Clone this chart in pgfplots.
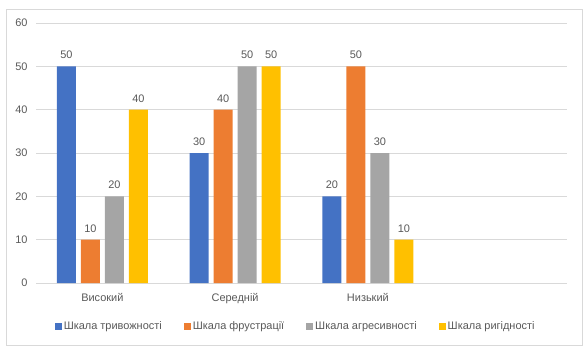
\documentclass[border=0pt]{standalone}
\usepackage{fontspec}
\setmainfont{Liberation Sans}
\usepackage{pgfplots}
\pgfplotsset{compat=1.18}
\definecolor{c1}{HTML}{4472C4}
\definecolor{c2}{HTML}{ED7D31}
\definecolor{c3}{HTML}{A5A5A5}
\definecolor{c4}{HTML}{FFC000}
\definecolor{txt}{HTML}{595959}
\definecolor{gridc}{HTML}{D9D9D9}
\pgfplotsset{sq/.style={legend image code/.code={\fill[##1,draw=none] (0bp,-3.5bp) rectangle (7bp,3.5bp);}}}
\begin{document}
\begin{tikzpicture}
\begin{axis}[name=ax, at={(0,0)}, anchor=south west,
  scale only axis, width=531bp, height=260bp,
  ymin=0, ymax=60, ytick={0,10,...,60},
  xmin=-0.5, xmax=3.5, xtick={0,1,2},
  xticklabels={Високий,Середній,Низький},
  ybar=5bp, bar width=19bp,
  axis line style={draw=none}, major tick length=0pt,
  ymajorgrids, grid style={gridc, line width=0.75bp},
  tick label style={font=\fontsize{11}{13}\selectfont, text=txt},
  yticklabel style={xshift=-5bp},
  xticklabel style={yshift=-7bp},
  /pgf/number format/assume math mode=true,
  nodes near coords,
  every node near coord/.append style={font=\fontsize{11}{13}\selectfont, text=txt, yshift=4bp},
  legend style={at={(0.489,-0.167)}, anchor=center, draw=none, legend columns=4,
    font=\fontsize{11}{13}\selectfont, text=txt,
    /tikz/every even column/.append style={column sep=20bp}},
  clip=false,
]
\addplot[fill=c1, draw=none, sq] coordinates {(0,50) (1,30) (2,20)};
\addplot[fill=c2, draw=none, sq] coordinates {(0,10) (1,40) (2,50)};
\addplot[fill=c3, draw=none, sq] coordinates {(0,20) (1,50) (2,30)};
\addplot[fill=c4, draw=none, sq] coordinates {(0,40) (1,50) (2,10)};
\legend{Шкала тривожності, Шкала фрустрації, Шкала агресивності, Шкала ригідності}
\end{axis}
\draw[gridc, line width=0.75bp] ([shift={(-30bp,-62bp)}]ax.south west) rectangle ([shift={(15bp,14bp)}]ax.north east);
\path[use as bounding box] ([shift={(-36bp,-69bp)}]ax.south west) rectangle ([shift={(20bp,23bp)}]ax.north east);
\end{tikzpicture}
\end{document}
